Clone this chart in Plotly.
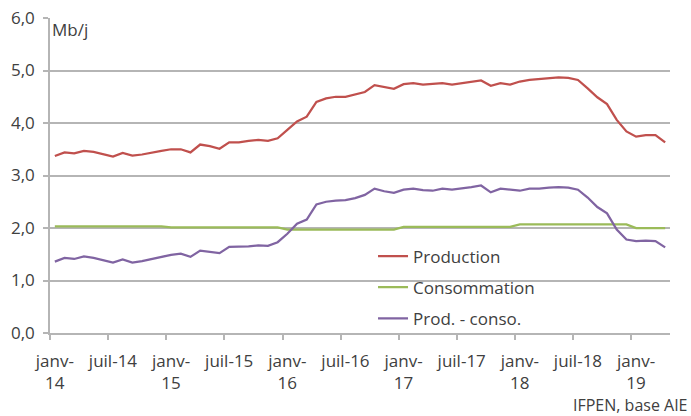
import plotly.graph_objects as go

months = list(range(64))  # janv-14 .. avr-19, one point per month

tick_positions = [0, 6, 12, 18, 24, 30, 36, 42, 48, 54, 60]
tick_labels = ["janv-<br>14", "juil-14", "janv-<br>15", "juil-15", "janv-<br>16",
               "juil-16", "janv-<br>17", "juil-17", "janv-<br>18", "juil-18", "janv-<br>19"]

production = [3.37, 3.44, 3.42, 3.47, 3.45, 3.40, 3.36, 3.43, 3.38, 3.40, 3.44, 3.47,
              3.50, 3.50, 3.44, 3.59, 3.56, 3.51, 3.63, 3.63, 3.66, 3.68, 3.66, 3.71,
              3.87, 4.03, 4.12, 4.40, 4.47, 4.50, 4.50, 4.55, 4.59, 4.72, 4.68, 4.65,
              4.74, 4.76, 4.73, 4.74, 4.76, 4.73, 4.76, 4.79, 4.81, 4.71, 4.76, 4.73,
              4.79, 4.82, 4.84, 4.85, 4.87, 4.86, 4.82, 4.66, 4.49, 4.36, 4.06, 3.84,
              3.74, 3.77, 3.77, 3.63]

consommation = [2.03] * 12 + [2.01] * 12 + [1.97] * 12 + [2.02] * 12 + [2.07] * 12 + [2.00] * 4

prod_conso = [1.36, 1.43, 1.41, 1.46, 1.43, 1.38, 1.34, 1.40, 1.34, 1.37, 1.41, 1.46,
              1.49, 1.51, 1.45, 1.57, 1.54, 1.52, 1.64, 1.64, 1.65, 1.67, 1.66, 1.73,
              1.89, 2.08, 2.16, 2.45, 2.50, 2.52, 2.53, 2.57, 2.63, 2.75, 2.70, 2.67,
              2.73, 2.75, 2.72, 2.71, 2.75, 2.73, 2.75, 2.78, 2.81, 2.68, 2.75, 2.73,
              2.71, 2.75, 2.75, 2.77, 2.78, 2.77, 2.73, 2.58, 2.40, 2.28, 1.97, 1.78,
              1.75, 1.76, 1.75, 1.63]

y_ticks = [0, 1, 2, 3, 4, 5, 6]
minor_ticks = [-0.5, 5.5, 11.5, 17.5, 23.5, 29.5, 35.5, 41.5, 47.5, 53.5, 59.5]

FONT = "Open Sans"
TXT = "#404040"
GRID = "#b5b5b5"

fig = go.Figure()
fig.add_trace(go.Scatter(x=months, y=production, mode="lines", name="Production",
                         line=dict(color="#C0504D", width=2.25), legendgroup="a"))
fig.add_trace(go.Scatter(x=months, y=consommation, mode="lines", name="Consommation",
                         line=dict(color="#9BBB59", width=2.25), legendgroup="b"))
fig.add_trace(go.Scatter(x=months, y=prod_conso, mode="lines", name="Prod. - conso.",
                         line=dict(color="#8064A2", width=2.25), legendgroup="c"))

fig.update_layout(
    width=691, height=416,
    margin=dict(l=50, r=21, t=18, b=83, autoexpand=False),
    paper_bgcolor="white", plot_bgcolor="white",
    separators=", ",
    font=dict(family=FONT, size=17, color=TXT),
    showlegend=True,
    legend=dict(x=0.521, y=0.30, xanchor="left", yanchor="top",
                bgcolor="rgba(0,0,0,0)", traceorder="grouped", tracegroupgap=6,
                font=dict(family=FONT, size=17, color=TXT)),
    xaxis=dict(range=[-0.5, 63.5], tickmode="array", tickvals=tick_positions,
               ticktext=tick_labels, ticks="outside", ticklen=12,
               tickcolor="rgba(0,0,0,0)", showgrid=False, zeroline=False,
               showline=True, linecolor=GRID, linewidth=1.5, automargin=False,
               tickfont=dict(family=FONT, size=17, color=TXT),
               minor=dict(tickmode="array", tickvals=minor_ticks,
                          ticks="outside", ticklen=5, tickcolor=GRID, tickwidth=1.5,
                          showgrid=False)),
    yaxis=dict(range=[0, 6], tickmode="array", tickvals=y_ticks, tickformat=".1f",
               ticks="outside", ticklen=5, tickcolor=GRID, tickwidth=1.5,
               showgrid=True, gridcolor=GRID, gridwidth=1.5, zeroline=False,
               showline=True, linecolor=GRID, linewidth=1.5, automargin=False,
               ticklabelstandoff=5,
               tickfont=dict(family=FONT, size=17, color=TXT)),
    annotations=[
        dict(text="Mb/j", x=0.0, y=0.962, xref="paper", yref="paper",
             xanchor="left", yanchor="middle", showarrow=False,
             font=dict(family=FONT, size=17, color=TXT)),
        dict(text="IFPEN, base AIE", x=1.03, y=-0.2667, xref="paper", yref="paper",
             xanchor="right", yanchor="bottom", showarrow=False, borderpad=0,
             font=dict(family=FONT, size=16, color=TXT)),
    ],
)

fig.write_html("out.html", config={"displayModeBar": False},
               post_script="document.body.style.margin='0';document.body.style.overflow='hidden';")
